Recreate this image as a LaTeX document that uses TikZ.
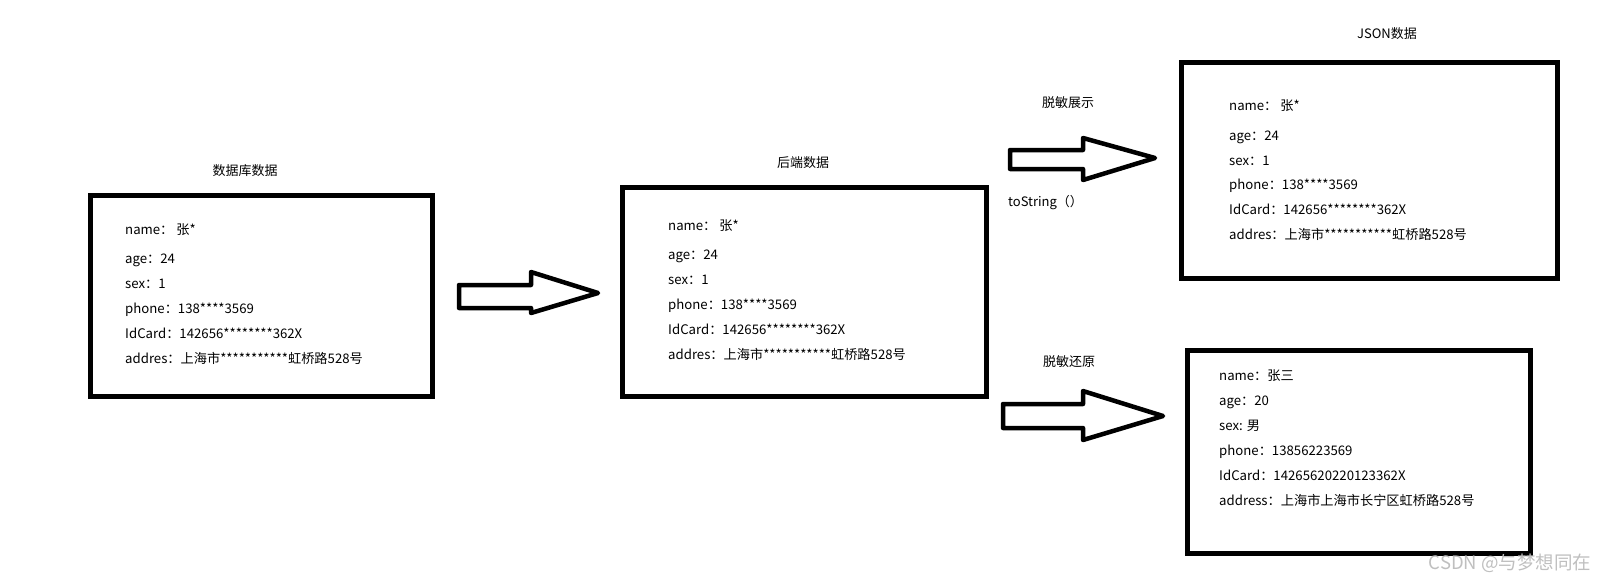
\documentclass[tikz,border=0pt]{standalone}
\usepackage{fontspec}
\setmainfont{Noto Sans CJK SC}
\begin{document}
\begin{tikzpicture}[x=1pt,y=-1pt,
  databox/.style={draw=black,line width=5pt,fill=none,inner sep=0pt},
  fieldtxt/.style={anchor=base west,inner sep=0pt,yshift=-4.5pt,font=\fontsize{13.2}{15}\selectfont},
  titletxt/.style={inner sep=0pt,font=\fontsize{13}{15}\selectfont},
  blockarrow/.style={draw=black,line width=4.5pt,line join=round,fill=white}]
\useasboundingbox (0,0) rectangle (1611,584);
% boxes
\node[databox,minimum width=342pt,minimum height=201pt] (b1) at (261.5,296) {};
\node[databox,minimum width=364pt,minimum height=209pt] (b2) at (804.5,292.25) {};
\node[databox,minimum width=376.5pt,minimum height=216pt] (b3) at (1369.25,170.5) {};
\node[databox,minimum width=343pt,minimum height=202.5pt] (b4) at (1358.5,451.75) {};
% titles
\node[titletxt] (t1) at (245,171) {数据库数据};
\node[titletxt] (t2) at (803,163) {后端数据};
\node[titletxt] (t3) at (1387,34) {JSON数据};
\node[titletxt] (l1) at (1068,103) {脱敏展示};
\node[titletxt] (l2) at (1069,362) {脱敏还原};
\node[titletxt,anchor=west] (l3) at (1008,203) {toString（）};
% box 1 fields
\node[fieldtxt] (a1) at (125,230) {name： 张*};
\node[fieldtxt] (a2) at (125,259) {age：24};
\node[fieldtxt] (a3) at (125,284) {sex：1};
\node[fieldtxt] (a4) at (125,309) {phone：138****3569};
\node[fieldtxt] (a5) at (125,334) {IdCard：142656********362X};
\node[fieldtxt] (a6) at (125,359) {addres：上海市***********虹桥路528号};
% box 2 fields
\node[fieldtxt] (c1) at (668,226) {name： 张*};
\node[fieldtxt] (c2) at (668,255) {age：24};
\node[fieldtxt] (c3) at (668,280) {sex：1};
\node[fieldtxt] (c4) at (668,305) {phone：138****3569};
\node[fieldtxt] (c5) at (668,330) {IdCard：142656********362X};
\node[fieldtxt] (c6) at (668,355) {addres：上海市***********虹桥路528号};
% box 3 fields
\node[fieldtxt] (d1) at (1229,106) {name： 张*};
\node[fieldtxt] (d2) at (1229,136) {age：24};
\node[fieldtxt] (d3) at (1229,161) {sex：1};
\node[fieldtxt] (d4) at (1229,185) {phone：138****3569};
\node[fieldtxt] (d5) at (1229,210) {IdCard：142656********362X};
\node[fieldtxt] (d6) at (1229,235) {addres：上海市***********虹桥路528号};
% box 4 fields
\node[fieldtxt] (e1) at (1219,376) {name：张三};
\node[fieldtxt] (e2) at (1219,401) {age：20};
\node[fieldtxt] (e3) at (1219,426) {sex: 男};
\node[fieldtxt] (e4) at (1219,451) {phone：13856223569};
\node[fieldtxt] (e5) at (1219,476) {IdCard：14265620220123362X};
\node[fieldtxt] (e6) at (1219,501) {address：上海市上海市长宁区虹桥路528号};
% block arrows
\draw[blockarrow] (459,285) -- (531,285) -- (531,272) -- (598,293) -- (531,313) -- (531,308) -- (459,308) -- cycle;
\draw[blockarrow] (1010,150) -- (1083,150) -- (1083,138) -- (1155,158) -- (1083,180) -- (1083,169) -- (1010,169) -- cycle;
\draw[blockarrow] (1003,404) -- (1083,404) -- (1083,391) -- (1163,416) -- (1083,440) -- (1083,428) -- (1003,428) -- cycle;
% watermark
\node[inner sep=0pt,text=black!25,font=\fontsize{18.5}{20}\selectfont] (wm) at (1510,563) {CSDN @与梦想同在};
\end{tikzpicture}
\end{document}
